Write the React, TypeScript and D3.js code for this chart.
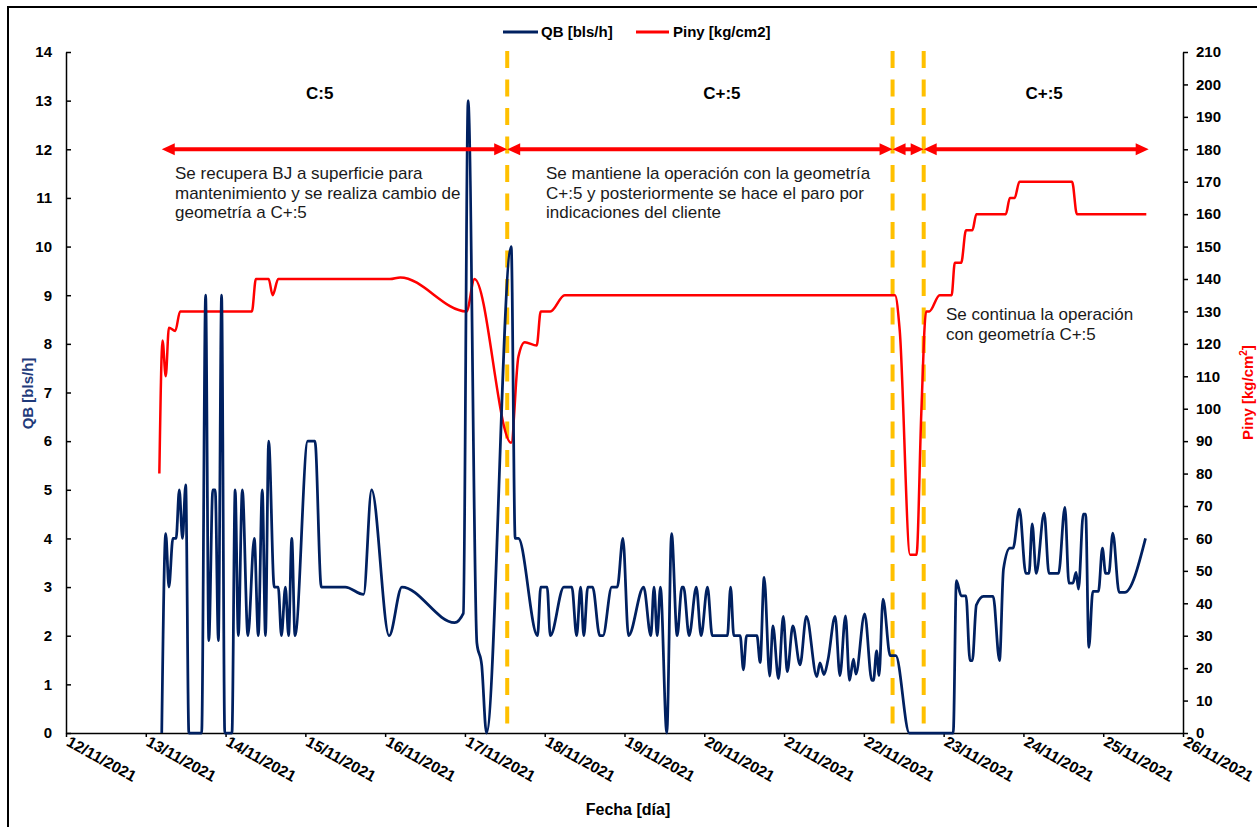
import React, { useEffect, useRef } from 'react';
import * as d3 from 'd3';

// QB [bls/h]: día de noviembre 2021 (fraccionario) y caudal
const qbDias = [
  13.2, 13.25, 13.29, 13.34, 13.38, 13.42, 13.46, 13.5, 13.54, 13.7,
  13.75, 13.79, 13.84, 13.87, 13.91, 13.95, 13.99, 14.08, 14.12, 14.16,
  14.21, 14.28, 14.36, 14.41, 14.46, 14.5, 14.54, 14.61, 14.66, 14.7,
  14.75, 14.79, 14.83, 14.87, 15.03, 15.12, 15.2, 15.5, 15.73, 15.83,
  16.05, 16.21, 16.87, 16.98, 17.04, 17.15, 17.21, 17.27, 17.58, 17.63,
  17.67, 17.91, 17.95, 18.03, 18.07, 18.24, 18.34, 18.4, 18.45, 18.49,
  18.54, 18.6, 18.69, 18.73, 18.84, 18.91, 18.98, 19.05, 19.24, 19.33,
  19.37, 19.41, 19.45, 19.53, 19.59, 19.66, 19.72, 19.74, 19.81, 19.9,
  19.96, 20.04, 20.1, 20.29, 20.33, 20.37, 20.45, 20.49, 20.53, 20.66,
  20.7, 20.75, 20.82, 20.86, 20.93, 20.99, 21.04, 21.11, 21.2, 21.28,
  21.41, 21.45, 21.5, 21.55, 21.64, 21.7, 21.77, 21.82, 21.87, 21.9,
  22.01, 22.1, 22.12, 22.16, 22.19, 22.24, 22.33, 22.4, 22.57, 23.12,
  23.16, 23.22, 23.28, 23.33, 23.36, 23.41, 23.5, 23.62, 23.7, 23.75,
  23.83, 23.87, 23.95, 24.03, 24.07, 24.11, 24.16, 24.26, 24.32, 24.44,
  24.52, 24.57, 24.62, 24.66, 24.69, 24.75, 24.78, 24.82, 24.87, 24.94,
  24.99, 25.03, 25.07, 25.12, 25.2, 25.27, 25.53,
];
const qbValores = [
  0, 4.1, 3.0, 4.0, 4.0, 5.0, 4.0, 5.1, 0, 0,
  9.0, 1.9, 5.0, 5.0, 1.9, 9.0, 0, 0, 5.0, 2.0,
  5.0, 2.0, 4.0, 2.0, 5.0, 2.0, 6.0, 3.0, 3.0, 2.0,
  3.0, 2.0, 4.0, 2.0, 6.0, 6.0, 3.0, 3.0, 2.85, 5.0,
  2.0, 3.0, 2.27, 2.46, 13.0, 1.85, 1.4, 0, 10.0, 4.0,
  4.0, 2.0, 3.0, 3.0, 2.0, 3.0, 3.0, 2.0, 3.0, 2.0,
  3.0, 3.0, 2.0, 2.0, 3.0, 3.0, 4.0, 2.0, 3.0, 2.0,
  3.0, 2.0, 3.0, 0, 4.1, 2.0, 3.0, 3.0, 2.0, 3.0,
  2.0, 3.0, 2.0, 2.0, 3.0, 2.0, 2.0, 1.3, 2.0, 2.0,
  1.45, 3.2, 1.17, 2.2, 1.12, 2.4, 1.26, 2.2, 1.4, 2.4,
  1.16, 1.44, 1.2, 1.5, 2.4, 1.18, 2.41, 1.08, 1.52, 1.21,
  2.45, 1.08, 1.08, 1.69, 1.18, 2.75, 1.59, 1.59, 0, 0,
  3.13, 2.82, 2.82, 1.49, 1.49, 2.63, 2.81, 2.81, 1.49, 3.37,
  3.8, 3.8, 4.6, 3.28, 3.28, 4.3, 3.28, 4.52, 3.28, 3.28,
  4.64, 3.08, 3.08, 3.3, 2.96, 4.5, 4.5, 1.76, 2.91, 2.91,
  3.8, 3.28, 3.28, 4.11, 2.89, 2.89, 4.0,
];

// Piny [kg/cm2]
const pinyDias = [
  13.17, 13.21, 13.25, 13.29, 13.37, 13.43, 14.33, 14.38, 14.54, 14.59,
  14.66, 16.06, 16.19, 17.02, 17.12, 17.58, 17.67, 17.75, 17.9, 17.95,
  18.07, 18.25, 22.39, 22.45, 22.58, 22.66, 22.72, 22.78, 22.82, 22.95,
  23.1, 23.14, 23.22, 23.28, 23.36, 23.41, 23.78, 23.83, 23.89, 23.95,
  24.61, 24.67, 25.54,
];
const pinyValores = [
  80, 121, 110, 125, 124, 130, 130, 140, 140, 135,
  140, 140, 140.5, 130, 140, 89.5, 116, 120.5, 119.5, 130,
  130, 135, 135, 124, 55, 55, 98.6, 130, 130, 135,
  135, 145, 145, 155, 155, 160, 160, 165, 165, 170,
  170, 160, 160,
];

const diasEje = [12, 13, 14, 15, 16, 17, 18, 19, 20, 21, 22, 23, 24, 25, 26];
const fechasEje = [
  '12/11/2021', '13/11/2021', '14/11/2021', '15/11/2021', '16/11/2021',
  '17/11/2021', '18/11/2021', '19/11/2021', '20/11/2021', '21/11/2021',
  '22/11/2021', '23/11/2021', '24/11/2021', '25/11/2021', '26/11/2021',
];

// cambios de geometría (líneas amarillas) y tramos de cada etapa
const cambios = [17.53, 22.36, 22.75];
const tramos = [[13.2, 17.53], [17.53, 22.36], [22.36, 22.75], [22.75, 25.57]];
const etapas = ['C:5', 'C+:5', 'C+:5'];
const notas = [
  ['Se recupera BJ a superficie para', 'mantenimiento y se realiza cambio de', 'geometría a C+:5'],
  ['Se mantiene la operación con la geometría', 'C+:5 y posteriormente se hace el paro por', 'indicaciones del cliente'],
  ['Se continua la operación', 'con geometría C+:5'],
];

const W = 1257, H = 827;
const M = { top: 52, right: 74, bottom: 94, left: 66 };
const FONT = '"Liberation Sans", Arial, sans-serif';
const AZUL = '#002060';
const ROJO = '#ff0000';

export default function App() {
  const ref = useRef<SVGSVGElement>(null);

  useEffect(() => {
    const svg = d3.select(ref.current);
    svg.selectAll('*').remove();
    svg.style('font-family', FONT);

    const x = d3.scaleLinear().domain([12, 26]).range([M.left, W - M.right]);
    const yQ = d3.scaleLinear().domain([0, 14]).range([H - M.bottom, M.top]);
    const yP = d3.scaleLinear().domain([0, 210]).range([H - M.bottom, M.top]);

    // marco
    svg.append('rect')
      .attr('x', 8).attr('y', 7).attr('width', 1270).attr('height', 840)
      .attr('fill', '#fff').attr('stroke', '#000').attr('stroke-width', 2);

    // ejes
    const ejeX = svg.append('g')
      .attr('transform', `translate(0,${H - M.bottom})`)
      .call(d3.axisBottom(x).tickValues(diasEje).tickSize(4).tickSizeOuter(0).tickFormat(() => ''));
    ejeX.selectAll('path,line').attr('stroke', '#000').attr('stroke-width', 1.5);

    ejeX.selectAll('g.tick').append('text')
      .attr('text-anchor', 'start')
      .attr('transform', 'translate(-1,12) rotate(29)')
      .attr('fill', '#000')
      .attr('font-size', 15.5)
      .attr('font-weight', 'bold')
      .text((d, i) => fechasEje[i]);

    const ejeQ = svg.append('g')
      .attr('transform', `translate(${M.left},0)`)
      .call(d3.axisLeft(yQ).ticks(14).tickSizeInner(-5).tickSizeOuter(0).tickPadding(14));
    ejeQ.selectAll('path,line').attr('stroke', '#000').attr('stroke-width', 1.5);
    ejeQ.selectAll('text').attr('font-size', 15).attr('font-weight', 'bold').attr('fill', '#000')
      .attr('font-family', FONT);

    const ejeP = svg.append('g')
      .attr('transform', `translate(${W - M.right},0)`)
      .call(d3.axisRight(yP).ticks(21).tickSize(5).tickSizeOuter(0).tickPadding(8));
    ejeP.selectAll('path,line').attr('stroke', '#000').attr('stroke-width', 1.5);
    ejeP.selectAll('text').attr('font-size', 15).attr('font-weight', 'bold').attr('fill', '#000')
      .attr('font-family', FONT);

    // títulos de ejes
    svg.append('text')
      .attr('transform', `translate(33,${(M.top + H - M.bottom) / 2 + 1}) rotate(-90)`)
      .attr('text-anchor', 'middle').attr('font-size', 15).attr('font-weight', 'bold')
      .attr('fill', '#1f3a7a').text('QB [bls/h]');

    const tP = svg.append('text')
      .attr('transform', `translate(1253,${(M.top + H - M.bottom) / 2}) rotate(-90)`)
      .attr('text-anchor', 'middle').attr('font-size', 15).attr('font-weight', 'bold')
      .attr('fill', ROJO);
    tP.append('tspan').text('Piny [kg/cm');
    tP.append('tspan').attr('font-size', 10).attr('dy', -6).text('2');
    tP.append('tspan').attr('dy', 6).text(']');

    svg.append('text')
      .attr('x', 628).attr('y', 815)
      .attr('text-anchor', 'middle').attr('font-size', 16).attr('font-weight', 'bold')
      .text('Fecha [día]');

    // líneas de cambio
    svg.append('g').selectAll('line').data(cambios).enter().append('line')
      .attr('x1', d => x(d)).attr('x2', d => x(d))
      .attr('y1', M.top - 1).attr('y2', H - M.bottom - 3)
      .attr('stroke', '#ffc000').attr('stroke-width', 4)
      .attr('stroke-dasharray', '17,11.5');

    // series
    const lineaQ = d3.line<number>()
      .x((d, i) => x(qbDias[i])).y(d => yQ(d))
      .curve(d3.curveMonotoneX);
    const lineaP = d3.line<number>()
      .x((d, i) => x(pinyDias[i])).y(d => yP(d))
      .curve(d3.curveMonotoneX);

    svg.append('path').attr('d', lineaP(pinyValores))
      .attr('fill', 'none').attr('stroke', ROJO).attr('stroke-width', 2.5)
      .attr('stroke-linejoin', 'round');
    svg.append('path').attr('d', lineaQ(qbValores))
      .attr('fill', 'none').attr('stroke', AZUL).attr('stroke-width', 2.75)
      .attr('stroke-linejoin', 'round');

    // flechas de tramos a QB = 12
    const yF = yQ(12);
    const largo = 13, ancho = 6;
    const flechas = svg.append('g');
    tramos.forEach(([a, b]) => {
      const x1 = x(a), x2 = x(b);
      flechas.append('line')
        .attr('x1', x1 + largo - 1).attr('x2', x2 - largo + 1)
        .attr('y1', yF).attr('y2', yF)
        .attr('stroke', ROJO).attr('stroke-width', 4);
      flechas.append('path')
        .attr('d', `M${x1},${yF}L${x1 + largo},${yF - ancho}L${x1 + largo},${yF + ancho}Z`)
        .attr('fill', ROJO);
      flechas.append('path')
        .attr('d', `M${x2},${yF}L${x2 - largo},${yF - ancho}L${x2 - largo},${yF + ancho}Z`)
        .attr('fill', ROJO);
    });

    // etapas
    const posEtapas = [15.18, 20.22, 24.26];
    etapas.forEach((t, i) => {
      svg.append('text')
        .attr('x', x(posEtapas[i])).attr('y', 99)
        .attr('text-anchor', 'middle').attr('font-size', 17).attr('font-weight', 'bold')
        .text(t);
    });

    // notas
    const posNotas = [[175, 179], [546, 179], [946, 320]];
    notas.forEach((lineas, i) => {
      const t = svg.append('text')
        .attr('x', posNotas[i][0]).attr('y', posNotas[i][1])
        .attr('font-size', 17).attr('fill', '#1a1a1a');
      lineas.forEach((l, j) => {
        t.append('tspan').attr('x', posNotas[i][0]).attr('dy', j === 0 ? 0 : 19.5).text(l);
      });
    });

    // leyenda
    const ley = svg.append('g').attr('font-size', 15).attr('font-weight', 'bold');
    ley.append('line').attr('x1', 503).attr('x2', 538).attr('y1', 32).attr('y2', 32)
      .attr('stroke', AZUL).attr('stroke-width', 3);
    ley.append('text').attr('x', 541).attr('y', 37).text('QB [bls/h]');
    ley.append('line').attr('x1', 636).attr('x2', 669).attr('y1', 32).attr('y2', 32)
      .attr('stroke', ROJO).attr('stroke-width', 3);
    ley.append('text').attr('x', 673).attr('y', 37).text('Piny [kg/cm2]');
  }, []);

  return (
    <svg
      ref={ref}
      width={W}
      height={H}
      style={{ position: 'absolute', left: 0, top: 0, background: '#fff' }}
    />
  );
}
